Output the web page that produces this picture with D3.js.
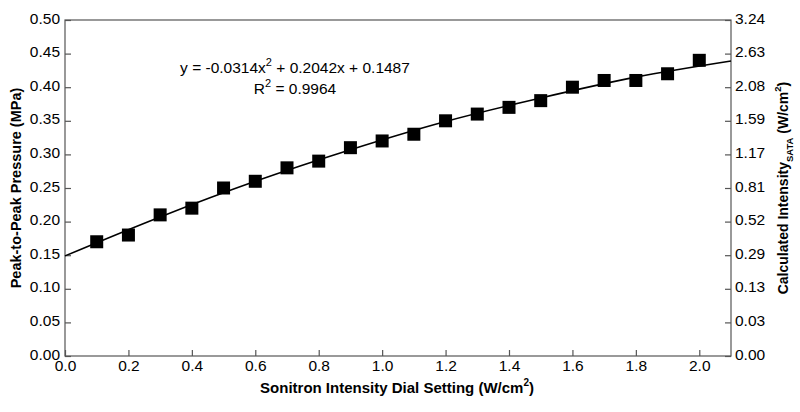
<!DOCTYPE html>
<html>
<head>
<meta charset="utf-8">
<script src="https://cdn.jsdelivr.net/npm/d3@7"></script>
<style>
  html, body { margin: 0; padding: 0; background: #fff; }
  svg { display: block; }
  text { font-family: "Liberation Sans", Arial, sans-serif; fill: #000; }
</style>
</head>
<body>
<svg id="chart" width="800" height="412"></svg>
<script>
// ---- data ----
const dialSetting = [0.1, 0.2, 0.3, 0.4, 0.5, 0.6, 0.7, 0.8, 0.9, 1.0, 1.1, 1.2, 1.3, 1.4, 1.5, 1.6, 1.7, 1.8, 1.9, 2.0];
const pressure    = [0.17, 0.18, 0.21, 0.22, 0.25, 0.26, 0.28, 0.29, 0.31, 0.32, 0.33, 0.35, 0.36, 0.37, 0.38, 0.40, 0.41, 0.41, 0.42, 0.44];
const fitX = [0, 0.3, 0.6, 0.9, 1.2, 1.5, 1.8, 2.1];
const fitY = [0.149, 0.207, 0.260, 0.307, 0.349, 0.384, 0.415, 0.439];
const xTicks = [0.0, 0.2, 0.4, 0.6, 0.8, 1.0, 1.2, 1.4, 1.6, 1.8, 2.0];
const yTicks = [0.00, 0.05, 0.10, 0.15, 0.20, 0.25, 0.30, 0.35, 0.40, 0.45, 0.50];
const rightTickLabels = ["0.00", "0.03", "0.13", "0.29", "0.52", "0.81", "1.17", "1.59", "2.08", "2.63", "3.24"];
const equationText = "y = -0.0314x";
const equationRest = " + 0.2042x + 0.1487";
const r2Text = "0.9964";

// ---- layout ----
const svg = d3.select("#chart");
const L = 65, R = 731, T = 20, B = 356;

const x = d3.scaleLinear().domain([0, 2.1]).range([L, R]);
const y = d3.scaleLinear().domain([0, 0.5]).range([B, T]);

// frame
svg.append("rect").attr("x", L).attr("y", T).attr("width", R - L).attr("height", B - T)
  .attr("fill", "none").attr("stroke", "#555").attr("stroke-width", 1.2);

function styleAxis(g) {
  g.select(".domain").remove();
  g.selectAll(".tick line").attr("stroke", "#555").attr("stroke-width", 1.2);
  g.selectAll(".tick text").attr("font-size", 15.5).attr("fill", "#000")
    .style("font-family", '"Liberation Sans", Arial, sans-serif');
}

// bottom axis (inward ticks)
svg.append("g").attr("transform", `translate(0,${B})`)
  .call(d3.axisBottom(x).tickValues(xTicks).tickFormat(d3.format(".1f")).tickSizeInner(-6).tickSizeOuter(0).tickPadding(4))
  .call(styleAxis);

// left axis
svg.append("g").attr("transform", `translate(${L},0)`)
  .call(d3.axisLeft(y).tickValues(yTicks).tickFormat(d3.format(".2f")).tickSizeInner(-6).tickSizeOuter(0).tickPadding(5))
  .call(styleAxis)
  .selectAll(".tick text").attr("dy", "0.2em");

// right axis
svg.append("g").attr("transform", `translate(${R},0)`)
  .call(d3.axisRight(y).tickValues(yTicks).tickFormat((d, i) => rightTickLabels[i]).tickSizeInner(-6).tickSizeOuter(0).tickPadding(4))
  .call(styleAxis)
  .selectAll(".tick text").attr("dy", "0.2em");

// fit line
const line = d3.line().x((d, i) => x(fitX[i])).y(d => y(d)).curve(d3.curveCatmullRom);
svg.append("path").datum(fitY).attr("d", line)
  .attr("fill", "none").attr("stroke", "#000").attr("stroke-width", 1.6);

// markers
const ms = 13;
svg.append("g").selectAll("rect").data(pressure).join("rect")
  .attr("x", (d, i) => x(dialSetting[i]) - ms / 2)
  .attr("y", d => y(d) - ms / 2)
  .attr("width", ms).attr("height", ms)
  .attr("fill", "#000");

// equation
const eq = svg.append("text").attr("x", 295).attr("y", 73).attr("text-anchor", "middle").attr("font-size", 15.5);
eq.append("tspan").text(equationText);
eq.append("tspan").text("2").attr("font-size", 11).attr("dy", -7);
eq.append("tspan").text(equationRest).attr("dy", 7);

const r2 = svg.append("text").attr("x", 295).attr("y", 94).attr("text-anchor", "middle").attr("font-size", 15.5);
r2.append("tspan").text("R");
r2.append("tspan").text("2").attr("font-size", 11).attr("dy", -7);
r2.append("tspan").text(" = " + r2Text).attr("dy", 7);

// x title
const xt = svg.append("text").attr("x", 397).attr("y", 393).attr("text-anchor", "middle")
  .attr("font-size", 15).attr("font-weight", "bold");
xt.append("tspan").text("Sonitron Intensity Dial Setting (W/cm");
xt.append("tspan").text("2").attr("font-size", 10).attr("dy", -7);
xt.append("tspan").text(")").attr("dy", 7);

// left title
svg.append("text").attr("transform", `translate(21,${(T + B) / 2}) rotate(-90)`)
  .attr("text-anchor", "middle").attr("font-size", 14.5).attr("font-weight", "bold")
  .text("Peak-to-Peak Pressure (MPa)");

// right title
const rt = svg.append("text").attr("transform", `translate(788,188) rotate(-90)`)
  .attr("text-anchor", "middle").attr("font-size", 14).attr("font-weight", "bold");
rt.append("tspan").text("Calculated Intensity");
rt.append("tspan").text("SATA").attr("font-size", 9.5).attr("dy", 5);
rt.append("tspan").text(" (W/cm").attr("dy", -5);
rt.append("tspan").text("2").attr("font-size", 9.5).attr("dy", -7);
rt.append("tspan").text(")").attr("dy", 7);
</script>
</body>
</html>
